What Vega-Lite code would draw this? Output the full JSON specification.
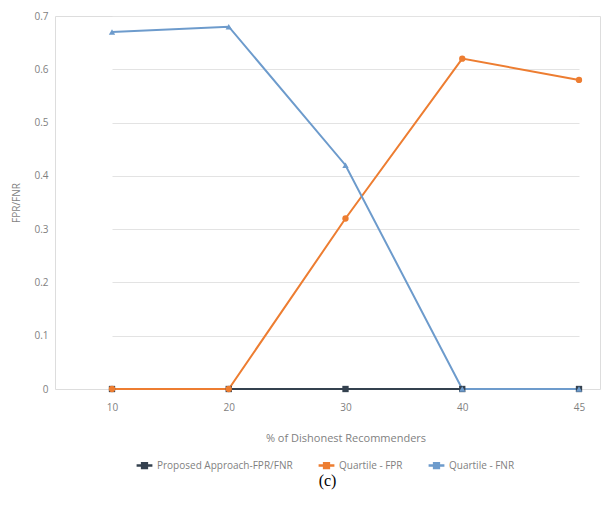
{
  "$schema": "https://vega.github.io/schema/vega-lite/v6.json",
  "width": 545,
  "height": 373,
  "autosize": {"type": "none"},
  "padding": {"left": 55, "top": 16, "right": 14, "bottom": 120},
  "background": "white",
  "title": {"text": "(c)", "orient": "bottom", "font": "Liberation Serif", "fontSize": 16, "fontWeight": "normal", "color": "#000000", "offset": 0},
  "data": {"values": [
    {"x": "10", "series": "Proposed Approach-FPR/FNR", "v": 0},
    {"x": "20", "series": "Proposed Approach-FPR/FNR", "v": 0},
    {"x": "30", "series": "Proposed Approach-FPR/FNR", "v": 0},
    {"x": "40", "series": "Proposed Approach-FPR/FNR", "v": 0},
    {"x": "45", "series": "Proposed Approach-FPR/FNR", "v": 0},
    {"x": "10", "series": "Quartile - FPR", "v": 0},
    {"x": "20", "series": "Quartile - FPR", "v": 0},
    {"x": "30", "series": "Quartile - FPR", "v": 0.32},
    {"x": "40", "series": "Quartile - FPR", "v": 0.62},
    {"x": "45", "series": "Quartile - FPR", "v": 0.58},
    {"x": "10", "series": "Quartile - FNR", "v": 0.67},
    {"x": "20", "series": "Quartile - FNR", "v": 0.68},
    {"x": "30", "series": "Quartile - FNR", "v": 0.42},
    {"x": "40", "series": "Quartile - FNR", "v": 0},
    {"x": "45", "series": "Quartile - FNR", "v": 0}
  ]},
  "encoding": {
    "x": {"field": "x", "type": "ordinal", "sort": ["10", "20", "30", "40", "45"],
      "scale": {"type": "point", "range": [57, 524], "padding": 0},
      "axis": {"title": "% of Dishonest Recommenders", "labelAngle": 0, "grid": false, "domain": true, "domainColor": "#d9d9d9", "ticks": false, "labelPadding": 13, "titlePadding": 20, "labelColor": "#7f7f7f", "titleColor": "#7f7f7f", "labelFont": "Open Sans", "titleFont": "Open Sans", "labelFontSize": 10, "titleFontSize": 11, "titleFontWeight": "normal"}},
    "y": {"field": "v", "type": "quantitative",
      "scale": {"domain": [0, 0.7], "nice": false},
      "axis": {"title": "FPR/FNR", "values": [0, 0.1, 0.2, 0.3, 0.4, 0.5, 0.6, 0.7], "format": "~g", "grid": true, "gridColor": "#e3e3e3", "domain": false, "ticks": false, "labelPadding": 7, "titlePadding": 12, "labelColor": "#7f7f7f", "titleColor": "#7f7f7f", "labelFont": "Open Sans", "titleFont": "Open Sans", "labelFontSize": 10, "titleFontSize": 10, "titleFontWeight": "normal"}},
    "color": {"field": "series", "type": "nominal",
      "sort": ["Proposed Approach-FPR/FNR", "Quartile - FPR", "Quartile - FNR"],
      "scale": {"domain": ["Proposed Approach-FPR/FNR", "Quartile - FPR", "Quartile - FNR"], "range": ["#34414f", "#ED7D31", "#6d9bcc"]},
      "legend": {"title": null, "orient": "none", "legendX": 80, "legendY": 440, "direction": "horizontal", "symbolType": "M-1,0H1M-0.3,-0.3H0.3V0.3H-0.3Z", "symbolSize": 250, "symbolStrokeWidth": 2.5, "labelFont": "Open Sans", "labelFontSize": 10, "labelColor": "#7f7f7f", "columnPadding": 20, "labelOffset": 3}},
    "order": {"field": "x"}
  },
  "layer": [
    {"mark": {"type": "line", "strokeWidth": 2}},
    {"transform": [{"filter": "datum.series == 'Proposed Approach-FPR/FNR'"}],
      "mark": {"type": "point", "filled": true, "size": 40, "opacity": 1, "shape": "square"}},
    {"transform": [{"filter": "datum.series == 'Quartile - FPR'"}],
      "mark": {"type": "point", "filled": true, "size": 40, "opacity": 1, "shape": "circle"}},
    {"transform": [{"filter": "datum.series == 'Quartile - FNR'"}],
      "mark": {"type": "point", "filled": true, "size": 40, "opacity": 1, "shape": "triangle-up"}}
  ]
}
